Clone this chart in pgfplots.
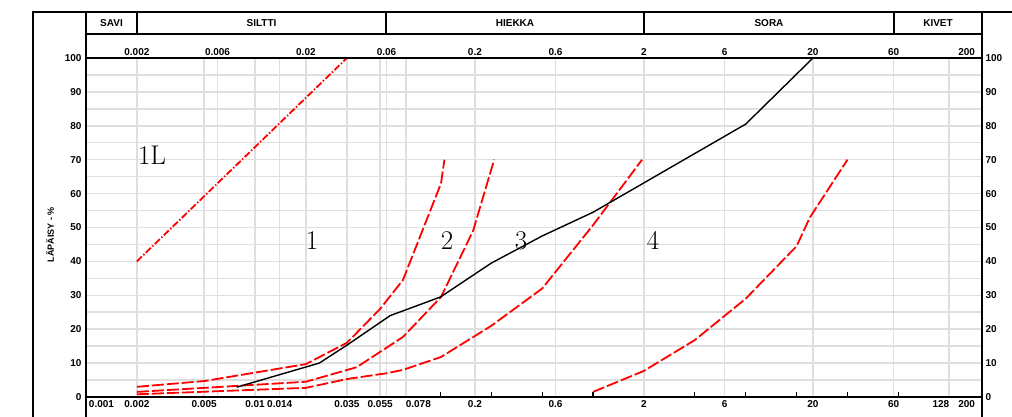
\documentclass[border=0pt]{standalone}
\usepackage{pgfplots}
\pgfplotsset{compat=1.18}
\usepackage{fontspec}
\newfontfamily\lab{Liberation Sans}
\newcommand{\lf}{\lab\bfseries\fontsize{10}{12}\selectfont}
\begin{document}
\begin{tikzpicture}
\useasboundingbox (0pt,0pt) rectangle (1012pt,417pt);
\clip (0pt,0pt) rectangle (1012pt,417pt);
% frame and header
\draw[line width=2pt] (33pt,-5pt) -- (33pt,405pt) -- (1020pt,405pt);
\draw[line width=2pt] (86pt,405pt) -- (86pt,-5pt);
\draw[line width=2pt] (982pt,405pt) -- (982pt,-5pt);
\draw[line width=2pt] (86pt,383pt) -- (982pt,383pt);
\foreach \xx in {137,386,644,894} \draw[line width=1.6pt] (\xx pt,383pt) -- (\xx pt,405pt);
\node[font=\lf] at (111.5pt,394pt) {SAVI};
\node[font=\lf] at (261.5pt,394pt) {SILTTI};
\node[font=\lf] at (515pt,394pt) {HIEKKA};
\node[font=\lf] at (769pt,394pt) {SORA};
\node[font=\lf] at (938pt,394pt) {KIVET};

\begin{axis}[
  at={(86pt,20pt)}, anchor=south west,
  scale only axis, width=896pt, height=339pt,
  xmode=log, xmin=0.001, xmax=200, ymin=0, ymax=100,
  axis line style={line width=1.8pt, black},
  xtick={0.001,0.002,0.005,0.006,0.01,0.014,0.02,0.035,0.055,0.06,0.078,0.2,0.6,2,6,20,60,128,200},
  xticklabels={\makebox[0pt][l]{\hspace{3pt}0.001},0.002,0.005,{},0.01,0.014,{},0.035,0.055,{},\makebox[0pt][l]{0.078},0.2,0.6,2,6,20,60,\makebox[0pt][r]{128},\makebox[0pt][r]{200\hspace{7pt}}},
  ytick={0,10,...,100}, minor ytick={5,15,...,95},
  grid=both,
  major grid style={gray!25, line width=1.5pt},
  minor grid style={gray!25, line width=1.5pt},
  major tick length=0pt, minor tick length=0pt,
  xtick pos=bottom, ytick pos=left,
  extra x ticks={0.125,0.25,0.5,1,4,8,16,32,64},
  extra x tick labels={},
  extra x tick style={grid=none, major tick length=5pt, tick align=inside, tick style={black, line width=1.2pt}},
  tick label style={font=\lf},
  /pgf/number format/assume math mode=true,
  yticklabel style={xshift=-1pt},
  ylabel={LÄPÄISY - \%},
  ylabel style={at={(axis description cs:-0.040,0.479)}, anchor=center, font=\lab\bfseries\fontsize{9}{11}\selectfont},
  no markers,
  clip=false,
]
% 1L
\addplot[red, line width=1.8pt, dash pattern=on 7pt off 2pt on 1.5pt off 2pt] coordinates {(0.002,40) (0.035,100)};
% A
\addplot[red, line width=1.8pt, dash pattern=on 12pt off 3pt] coordinates {(0.002,3) (0.005,4.7) (0.02,9.7) (0.035,16) (0.055,26) (0.075,34.5) (0.126,63) (0.132,70)};
% B
\addplot[red, line width=1.8pt, dash pattern=on 12pt off 3pt] coordinates {(0.002,1.5) (0.02,4.5) (0.04,8.8) (0.075,17.7) (0.126,29.5) (0.195,49) (0.26,70)};
% C
\addplot[red, line width=1.8pt, dash pattern=on 12pt off 3pt] coordinates {(0.002,0.8) (0.02,2.7) (0.035,5.3) (0.06,7) (0.075,8) (0.126,11.8) (0.25,21) (0.5,32) (1.0,50.7) (1.95,70)};
% D
\addplot[red, line width=1.8pt, dash pattern=on 12pt off 3pt] coordinates {(1.0,1.5) (2,7.7) (4,16.8) (8,29) (16,44.5) (19.2,53) (32,70)};
% sample
\addplot[black, line width=1.4pt] coordinates {(0.0078,2.9) (0.024,10) (0.035,15.3) (0.063,24) (0.125,29.5) (0.25,39.5) (0.5,47.5) (1.0,54.5) (8,80.5) (20,100)};
\end{axis}

\begin{axis}[
  at={(86pt,20pt)}, anchor=south west,
  scale only axis, width=896pt, height=339pt,
  xmode=log, xmin=0.001, xmax=200, ymin=0, ymax=100,
  axis x line*=top, axis y line*=right,
  axis line style={line width=1.8pt, black},
  xtick={0.002,0.006,0.02,0.06,0.2,0.6,2,6,20,60,200},
  xticklabels={0.002,0.006,0.02,0.06,0.2,0.6,2,6,20,60,\makebox[0pt][r]{200\hspace{7pt}}},
  ytick={0,10,...,100},
  major tick length=0pt,
  tick label style={font=\lf},
  /pgf/number format/assume math mode=true,
  xticklabel style={yshift=-1pt},
  yticklabel style={xshift=0pt},
]
\end{axis}

% zone labels
\begin{scope}[every node/.style={anchor=base, font=\fontsize{27}{30}\selectfont}]
\node at (152pt,252pt) {1L};
\node at (312pt,167pt) {1};
\node at (447pt,167pt) {2};
\node at (521pt,167pt) {3};
\node at (653pt,167pt) {4};
\end{scope}
\end{tikzpicture}
\end{document}
